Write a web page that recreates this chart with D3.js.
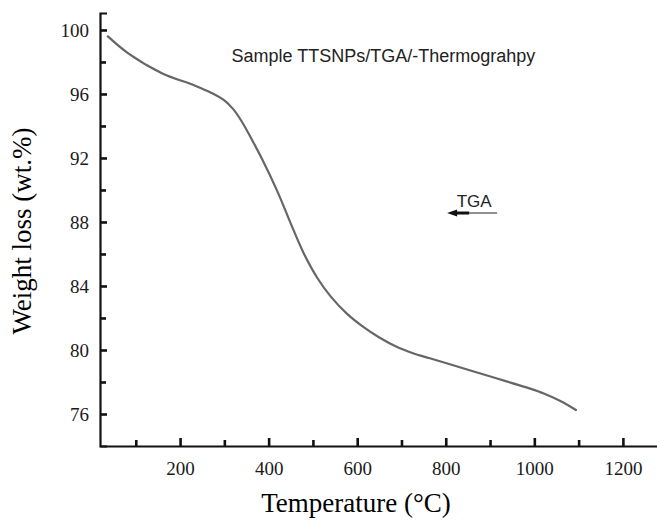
<!DOCTYPE html>
<html>
<head>
<meta charset="utf-8">
<script src="https://cdn.jsdelivr.net/npm/d3@7"></script>
<style>
  html, body { margin: 0; padding: 0; background: #fff; }
  svg { display: block; }
</style>
</head>
<body>
<svg id="chart" width="657" height="520"></svg>
<script>
// ---- data ----
const temperature = [37, 83, 159, 234, 270, 300, 320, 340, 362, 384, 420, 450, 480, 510, 540, 576, 613, 650, 689, 726, 764, 839, 914, 950, 989, 1020, 1060, 1094];
const weight      = [99.6, 98.54, 97.3, 96.52, 96.08, 95.6, 95.05, 94.25, 93.15, 92.0, 89.9, 87.9, 86.0, 84.5, 83.35, 82.29, 81.46, 80.78, 80.2, 79.8, 79.48, 78.86, 78.23, 77.93, 77.6, 77.3, 76.8, 76.25];
const xMajorTicks = [200, 400, 600, 800, 1000, 1200];
const xMinorTicks = [100, 300, 500, 700, 900, 1100];
const yMajorTicks = [76, 80, 84, 88, 92, 96, 100];
const yMinorTicks = [78, 82, 86, 90, 94, 98];
const titleText = "Sample TTSNPs/TGA/-Thermograhpy";
const seriesLabel = "TGA";
const xTitle = "Temperature (°C)";
const yTitle = "Weight loss (wt.%)";

const svg = d3.select("#chart");
const x = d3.scaleLinear().domain([19.2, 1277]).range([100, 657]);
const y = d3.scaleLinear().domain([74, 101.06]).range([446, 13]);

const serif = "'Liberation Serif', 'Times New Roman', serif";
const sans = "'Liberation Sans', Arial, sans-serif";

// curve
const pts = temperature.map((t, i) => [t, weight[i]]);
svg.append("path")
  .datum(pts)
  .attr("fill", "none")
  .attr("stroke", "#666")
  .attr("stroke-width", 2.2)
  .attr("stroke-linecap", "round")
  .attr("d", d3.line().x(d => x(d[0])).y(d => y(d[1])).curve(d3.curveCatmullRom.alpha(0.5)));

// axes
const xAxis = svg.append("g").attr("transform", `translate(0,${y.range()[0]})`)
  .call(d3.axisBottom(x).tickValues(xMajorTicks).tickSize(-8).tickSizeOuter(0).tickPadding(15.5).tickFormat(d3.format("d")));
const xMinor = svg.append("g").attr("transform", `translate(0,${y.range()[0]})`)
  .call(d3.axisBottom(x).tickValues(xMinorTicks).tickSize(-6).tickSizeOuter(0).tickFormat(""));
xMinor.select(".domain").remove();

const yAxis = svg.append("g").attr("transform", `translate(${x.range()[0]},0)`)
  .call(d3.axisLeft(y).tickValues(yMajorTicks).tickSize(-7).tickSizeOuter(-7).tickPadding(11).tickFormat(d3.format("d")));
const yMinor = svg.append("g").attr("transform", `translate(${x.range()[0]},0)`)
  .call(d3.axisLeft(y).tickValues(yMinorTicks).tickSize(-6).tickSizeOuter(0).tickFormat(""));
yMinor.select(".domain").remove();

svg.selectAll(".domain").attr("stroke", "#111").attr("stroke-width", 2.2);
svg.selectAll(".tick line").attr("stroke", "#111").attr("stroke-width", 2.6);
svg.selectAll(".tick text").attr("font-family", serif).attr("font-size", 19).attr("fill", "#1a1a1a");

// axis titles
svg.append("text")
  .attr("x", 356).attr("y", 512)
  .attr("text-anchor", "middle")
  .attr("font-family", serif).attr("font-size", 27).attr("fill", "#000")
  .text(xTitle);
svg.append("text")
  .attr("transform", "translate(31,231) rotate(-90)")
  .attr("text-anchor", "middle")
  .attr("font-family", serif).attr("font-size", 27).attr("fill", "#000")
  .text(yTitle);

// title annotation
svg.append("text")
  .attr("x", x(659)).attr("y", y(98))
  .attr("text-anchor", "middle")
  .attr("font-family", sans).attr("font-size", 18).attr("fill", "#222")
  .text(titleText);

// TGA label and arrow
const arrowT = [803, 916], arrowW = 88.56;
svg.append("text")
  .attr("x", x(864)).attr("y", y(88.94))
  .attr("text-anchor", "middle")
  .attr("font-family", sans).attr("font-size", 17).attr("fill", "#222")
  .text(seriesLabel);
svg.append("line")
  .attr("x1", x(arrowT[0]) + 4).attr("x2", x(arrowT[1]))
  .attr("y1", y(arrowW)).attr("y2", y(arrowW))
  .attr("stroke", "#222").attr("stroke-width", 1.2);
svg.append("line")
  .attr("x1", x(arrowT[0]) + 6).attr("x2", x(arrowT[0]) + 22)
  .attr("y1", y(arrowW)).attr("y2", y(arrowW))
  .attr("stroke", "#111").attr("stroke-width", 3);
const ax = x(arrowT[0]), ay = y(arrowW);
svg.append("path")
  .attr("d", `M${ax},${ay} L${ax + 10},${ay - 3.5} L${ax + 10},${ay + 3.5} Z`)
  .attr("fill", "#111");
</script>
</body>
</html>
